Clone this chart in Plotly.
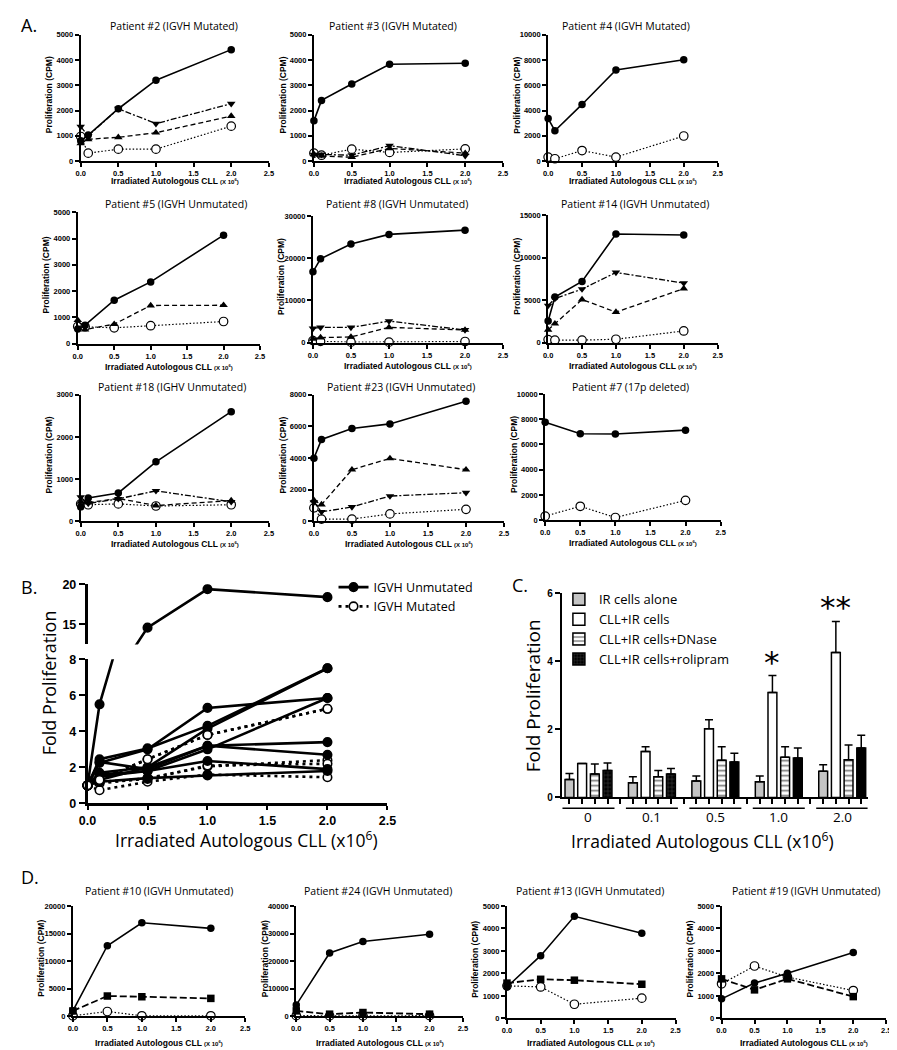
import plotly.graph_objects as go

# ------------------------------------------------------------------ data
DOSE5 = [0.0, 0.1, 0.5, 1.0, 2.0]
DOSE4 = [0.0, 0.5, 1.0, 2.0]

# Panel A  (Proliferation, CPM)
P2_FILLED = [800, 1030, 2070, 3200, 4410]
P2_DOWN = [1360, 1000, 2070, 1480, 2270]
P2_UP = [700, 860, 940, 1120, 1780]
P2_OPEN = [970, 310, 470, 470, 1380]

P3_FILLED = [1590, 2400, 3050, 3830, 3870]
P3_DOWN = [250, 260, 230, 610, 210]
P3_UP = [270, 200, 150, 500, 310]
P3_OPEN = [310, 230, 470, 340, 480]

P4_FILLED = [3360, 2400, 4480, 7210, 8020]
P4_OPEN = [310, 180, 830, 310, 1980]

P5_FILLED = [550, 700, 1650, 2350, 4130]
P5_UP = [890, 530, 740, 1450, 1460]
P5_OPEN = [650, 640, 600, 680, 840]

P8_FILLED = [16800, 19900, 23400, 25700, 26700]
P8_DOWN = [3370, 3600, 3600, 5100, 3000]
P8_UP = [900, 1180, 1340, 3600, 3000]
P8_OPEN = [450, 300, 100, 100, 250]

P14_FILLED = [2540, 5370, 7200, 12800, 12670]
P14_DOWN = [4360, 5190, 6300, 8260, 7010]
P14_UP = [1500, 2220, 5070, 3590, 6360]
P14_OPEN = [350, 290, 290, 390, 1370]

P18_FILLED = [340, 550, 670, 1410, 2600]
P18_DOWN = [570, 420, 530, 720, 460]
P18_UP = [460, 440, 540, 370, 490]
P18_OPEN = [410, 390, 410, 360, 390]

P23_FILLED = [3980, 5180, 5870, 6160, 7600]
P23_UP = [1320, 1050, 3260, 3970, 3260]
P23_DOWN = [1200, 590, 900, 1590, 1800]
P23_OPEN = [840, 130, 130, 460, 750]

P7_FILLED = [7750, 6840, 6820, 7130]
P7_OPEN = [320, 1100, 210, 1570]

# Panel D  (Proliferation, CPM)
P10_FILLED = [1020, 12800, 16960, 15950]
P10_SQUARE = [1000, 3700, 3570, 3270]
P10_OPEN = [120, 900, 120, 120]

P24_FILLED = [4180, 22980, 27130, 29750]
P24_SQUARE = [2030, 830, 1430, 830]
P24_OPEN = [300, 200, 200, 300]

P13_FILLED = [1400, 2790, 4540, 3790]
P13_SQUARE = [1570, 1740, 1700, 1520]
P13_OPEN = [1450, 1400, 630, 900]

P19_FILLED = [870, 1570, 2010, 2930]
P19_SQUARE = [1760, 1270, 1760, 970]
P19_OPEN = [1540, 2330, 1840, 1240]

# Panel B  (fold proliferation)
B_UNMUTATED = [
    [1, 5.5, 14.6, 19.4, 18.4],
    [1, 2.45, 3.05, 4.3, 7.5],
    [1, 2.25, 3.0, 5.3, 5.85],
    [1, 1.7, 2.0, 4.15, 7.5],
    [1, 2.3, 1.9, 3.2, 2.7],
    [1, 1.5, 1.8, 3.0, 5.85],
    [1, 1.3, 2.0, 3.2, 3.4],
    [1, 1.6, 1.8, 2.35, 1.9],
    [1, 1.2, 1.4, 1.55, 1.8],
]
B_MUTATED = [
    [1, 1.3, 2.45, 3.8, 5.25],
    [1, 1.1, 1.4, 2.05, 2.4],
    [1, 0.73, 1.2, 1.6, 1.45],
    [1, 1.2, 1.35, 2.1, 2.2],
]

# Panel C  (fold proliferation, mean + SEM)
C_GROUPS = ["0", "0.1", "0.5", "1.0", "2.0"]
C_IR_ALONE = [0.53, 0.43, 0.48, 0.46, 0.77]
C_IR_ALONE_ERR = [0.17, 0.18, 0.15, 0.17, 0.19]
C_CLL_IR = [1.0, 1.35, 2.02, 3.08, 4.26]
C_CLL_IR_ERR = [0, 0.14, 0.26, 0.5, 0.91]
C_DNASE = [0.69, 0.61, 1.09, 1.18, 1.11]
C_DNASE_ERR = [0.29, 0.18, 0.4, 0.31, 0.43]
C_ROLIPRAM = [0.79, 0.69, 1.04, 1.16, 1.45]
C_ROLIPRAM_ERR = [0.22, 0.16, 0.26, 0.29, 0.38]
C_STARS = ["", "", "", "*", "**"]

# ------------------------------------------------------------------ helpers
W, H = 897, 1050
fig = go.Figure()
layout = {}
annotations = []
shapes = []
counter = [0]

BOLD = dict(family="Liberation Sans", color="black", weight="bold")
SANS = "Open Sans"


def px_x(v):
    return v / W


def px_y(v):
    return 1 - v / H


def note(text, x, y, size, family=SANS, angle=0, xanchor="center", yanchor="middle",
         bold=False, xref="paper", yref="paper"):
    f = dict(family=family, size=size, color="black")
    if bold:
        f["weight"] = "bold"
    annotations.append(dict(text=text, x=x, y=y, xref=xref, yref=yref, showarrow=False,
                            textangle=angle, xanchor=xanchor, yanchor=yanchor, font=f))


def new_axes(box, xcfg, ycfg):
    counter[0] += 1
    n = counter[0]
    sx = "" if n == 1 else str(n)
    x0, x1, ytop, ybot = box
    layout["xaxis" + sx] = dict(domain=[x0 / W, x1 / W], anchor="y" + sx, **xcfg)
    layout["yaxis" + sx] = dict(domain=[1 - ybot / H, 1 - ytop / H], anchor="x" + sx, **ycfg)
    return "x" + sx, "y" + sx


COMMON_AX = dict(showgrid=False, zeroline=False, showline=True, linecolor="black",
                 ticks="outside", tickcolor="black", ticklabeloverflow="allow")

STYLE = {
    "open": dict(line=dict(color="black", width=1.2, dash="1.5px,2px"),
                 marker=dict(symbol="circle", size=8.5, color="white", opacity=1,
                             line=dict(color="black", width=1.2))),
    "up": dict(line=dict(color="black", width=1.3, dash="5px,3px"),
               marker=dict(symbol="triangle-up", size=7.5, color="black", opacity=1)),
    "down": dict(line=dict(color="black", width=1.3, dash="6px,2px,2px,2px"),
                 marker=dict(symbol="triangle-down", size=7.5, color="black", opacity=1)),
    "square": dict(line=dict(color="black", width=1.8, dash="7px,3px"),
                   marker=dict(symbol="square", size=7.5, color="black", opacity=1)),
    "filled": dict(line=dict(color="black", width=1.6),
                   marker=dict(symbol="circle", size=7.5, color="black", opacity=1)),
}
ORDER = ["open", "up", "down", "square", "filled"]
XTITLE_SMALL = "Irradiated Autologous CLL <span style='font-size:6px'>(X 10<sup>6</sup>)</span>"


def small_panel(title, title_cx, title_y, xtitle_y, box, ymax, ydtick, xs, series):
    x0, x1, ytop, ybot = box
    xcfg = dict(COMMON_AX, range=[0, 2.5], tickvals=[0, 0.5, 1, 1.5, 2, 2.5],
                tickformat=".1f", ticklen=4, tickwidth=1.5, linewidth=2,
                tickfont=dict(BOLD, size=7.5))
    ycfg = dict(COMMON_AX, range=[0, ymax], dtick=ydtick, tickformat="d",
                ticklen=4, tickwidth=1.5, linewidth=2,
                tickfont=dict(BOLD, size=7.5))
    xa, ya = new_axes(box, xcfg, ycfg)
    for key in ORDER:
        if key in series:
            st = STYLE[key]
            fig.add_trace(go.Scatter(x=xs, y=series[key], xaxis=xa, yaxis=ya,
                                     mode="lines+markers", line=st["line"],
                                     marker=st["marker"], showlegend=False,
                                     cliponaxis=False))
    note(title, px_x(title_cx), px_y(title_y), 10.5)
    note(XTITLE_SMALL, px_x((x0 + x1) / 2), px_y(xtitle_y), 8.5, family="Liberation Sans",
         bold=True)
    note("Proliferation (CPM)", px_x(x0 - 32), px_y((ytop + ybot) / 2 - 3), 8.5,
         family="Liberation Sans", angle=-90, bold=True)


# ------------------------------------------------------------------ panel A
small_panel("Patient #2 (IGVH Mutated)", 160, 11, 168, (65, 257, 20, 148), 5000, 1000, DOSE5,
            dict(filled=P2_FILLED, down=P2_DOWN, up=P2_UP, open=P2_OPEN))
small_panel("Patient #3 (IGVH Mutated)", 384, 11, 168, (303, 496, 20, 148), 5000, 1000, DOSE5,
            dict(filled=P3_FILLED, down=P3_DOWN, up=P3_UP, open=P3_OPEN))
small_panel("Patient #4 (IGVH Mutated)", 621, 11, 168, (542, 715, 20, 148), 10000, 2000, DOSE5,
            dict(filled=P4_FILLED, open=P4_OPEN))

small_panel("Patient #5 (IGVH Unmutated)", 162, 192, 357, (62, 248, 200, 333), 5000, 1000, DOSE5,
            dict(filled=P5_FILLED, up=P5_UP, open=P5_OPEN))
small_panel("Patient #8 (IGVH Unmutated)", 388, 192, 356, (302, 496, 204, 332), 30000, 10000, DOSE5,
            dict(filled=P8_FILLED, down=P8_DOWN, up=P8_UP, open=P8_OPEN))
small_panel("Patient #14 (IGVH Unmutated)", 631, 192, 356, (542, 715, 203, 332), 15000, 5000, DOSE5,
            dict(filled=P14_FILLED, down=P14_DOWN, up=P14_UP, open=P14_OPEN))

small_panel("Patient #18 (IGHV Unmutated)", 158, 377, 536, (65, 257, 385, 513), 3000, 1000, DOSE5,
            dict(filled=P18_FILLED, down=P18_DOWN, up=P18_UP, open=P18_OPEN))
small_panel("Patient #23 (IGVH Unmutated)", 392, 377, 536, (303, 497, 385, 513), 8000, 2000, DOSE5,
            dict(filled=P23_FILLED, down=P23_DOWN, up=P23_UP, open=P23_OPEN))
small_panel("Patient #7 (17p deleted)", 626, 377, 535, (539, 718, 384, 512), 10000, 2000, DOSE4,
            dict(filled=P7_FILLED, open=P7_OPEN))

# ------------------------------------------------------------------ panel D
small_panel("Patient #10 (IGVH Unmutated)", 145, 888, 1042, (57, 233, 903, 1015), 20000, 5000, DOSE4,
            dict(filled=P10_FILLED, square=P10_SQUARE, open=P10_OPEN))
small_panel("Patient #24 (IGVH Unmutated)", 368, 888, 1042, (285, 455, 903, 1015), 40000, 10000, DOSE4,
            dict(filled=P24_FILLED, square=P24_SQUARE, open=P24_OPEN))
small_panel("Patient #13 (IGVH Unmutated)", 585, 888, 1042, (500, 672, 903, 1017), 5000, 1000, DOSE4,
            dict(filled=P13_FILLED, square=P13_SQUARE, open=P13_OPEN))
small_panel("Patient #19 (IGVH Unmutated)", 805, 888, 1042, (719, 887, 903, 1017), 5000, 1000, DOSE4,
            dict(filled=P19_FILLED, square=P19_SQUARE, open=P19_OPEN))

# ------------------------------------------------------------------ panel B (broken axis)
LOW_MAX = 8
UP_MIN, UP_MAX = 12.5, 20
B_TICKFONT = dict(BOLD, size=12.5)
xb_lo, yb_lo = new_axes((72, 378, 653, 799),
                        dict(COMMON_AX, range=[0, 2.5], tickvals=[0, 0.5, 1, 1.5, 2, 2.5],
                             tickformat=".1f", ticklen=4, tickwidth=2, linewidth=2.5,
                             tickfont=B_TICKFONT),
                        dict(COMMON_AX, range=[0, LOW_MAX], tickvals=[0, 2, 4, 6, 8],
                             ticklen=6, tickwidth=2, linewidth=2.5, tickfont=B_TICKFONT))
xb_up, yb_up = new_axes((72, 378, 577, 638),
                        dict(range=[0, 2.5], visible=False),
                        dict(COMMON_AX, range=[UP_MIN, UP_MAX], tickvals=[15, 20],
                             ticklen=6, tickwidth=2, linewidth=2.5, tickfont=B_TICKFONT))


def b_line(ys, mutated, legend_name=None):
    lstyle = dict(color="black", width=2.6, dash="3px,4px" if mutated else "solid")
    mk = dict(symbol="circle", color="white" if mutated else "black", opacity=1,
              line=dict(color="black", width=1.6))
    lo_sizes = [8.5 if v <= LOW_MAX else 0 for v in ys]
    fig.add_trace(go.Scatter(x=DOSE5, y=ys, xaxis=xb_lo, yaxis=yb_lo, mode="lines+markers",
                             line=lstyle, marker=dict(mk, size=lo_sizes if 0 in lo_sizes else 8.5),
                             cliponaxis=False, name=legend_name or "",
                             showlegend=legend_name is not None, legend="legend"))
    if any(v > LOW_MAX for v in ys):
        up_sizes = [8.5 if v >= UP_MIN else 0 for v in ys]
        fig.add_trace(go.Scatter(x=DOSE5, y=ys, xaxis=xb_up, yaxis=yb_up, mode="lines+markers",
                                 line=lstyle, marker=dict(mk, size=up_sizes),
                                 cliponaxis=True, showlegend=False))


for ys in B_MUTATED:
    b_line(ys, True)
for i, ys in enumerate(B_UNMUTATED):
    b_line(ys, False, "IGVH Unmutated" if i == 1 else None)
fig.add_trace(go.Scatter(x=DOSE5, y=B_MUTATED[0], xaxis=xb_lo, yaxis=yb_lo, mode="lines+markers",
                         line=dict(color="black", width=2.6, dash="3px,4px"),
                         marker=dict(symbol="circle", size=8.5, color="white", opacity=1,
                                     line=dict(color="black", width=1.6)),
                         cliponaxis=False, name="IGVH Mutated", legend="legend",
                         showlegend=True))

note("Fold Proliferation", px_x(33), px_y(677), 18, angle=-90)
note("Irradiated Autologous CLL (x10<sup>6</sup>)", px_x(234), px_y(836), 17.5)

# ------------------------------------------------------------------ panel C
GROUP_POS = list(range(len(C_GROUPS)))
BAR_OFFSETS = [-0.3, -0.1, 0.1, 0.3]
c_ticks = [g + o for g in GROUP_POS for o in BAR_OFFSETS] + [g + 0.5 for g in GROUP_POS[:-1]]
xc, yc = new_axes((556, 868, 586, 793),
                  dict(COMMON_AX, range=[-0.42, 4.40], tickvals=c_ticks, showticklabels=False,
                       ticklen=5, tickwidth=1.5, linewidth=2),
                  dict(COMMON_AX, range=[0, 6], tickvals=[0, 2, 4, 6], ticklen=5, tickwidth=1.5,
                       linewidth=2, tickfont=dict(BOLD, size=10)))

bar_specs = [
    ("IR cells alone", C_IR_ALONE, C_IR_ALONE_ERR, dict(color="#c4c4c4")),
    ("CLL+IR cells", C_CLL_IR, C_CLL_IR_ERR, dict(color="white")),
    ("CLL+IR cells+DNase", C_DNASE, C_DNASE_ERR,
     dict(color="white", pattern=dict(shape="-", fgcolor="black", bgcolor="white",
                                      size=5, solidity=0.35))),
    ("CLL+IR cells+rolipram", C_ROLIPRAM, C_ROLIPRAM_ERR,
     dict(color="black", pattern=dict(shape=["+", "+", "", "", ""], fgcolor="#8a8a8a",
                                      bgcolor="black", size=4, solidity=0.25))),
]
for name, vals, errs, mk in bar_specs:
    fig.add_trace(go.Bar(x=GROUP_POS, y=vals, name=name, xaxis=xc, yaxis=yc,
                         marker=dict(mk, line=dict(color="black", width=1.5)),
                         error_y=dict(type="data", array=errs, arrayminus=[0] * len(errs),
                                      symmetric=False, color="black", thickness=1.5, width=4),
                         legend="legend2"))

for g, star, v, e in zip(GROUP_POS, C_STARS, C_CLL_IR, C_CLL_IR_ERR):
    if star:
        annotations.append(dict(text=star, x=g + BAR_OFFSETS[1], y=v + e, xref=xc, yref=yc,
                                showarrow=False, xanchor="center", yanchor="bottom", yshift=-6,
                                font=dict(family="DejaVu Sans", size=31, color="black")))

for g, lab in zip(GROUP_POS, C_GROUPS):
    shapes.append(dict(type="line", xref=xc, yref="paper", x0=g - 0.41, x1=g + 0.41,
                       y0=px_y(804), y1=px_y(804), line=dict(color="black", width=1.5)))
    note(lab, g, px_y(813), 13.5, xref=xc)

note("Fold Proliferation", px_x(526), px_y(690), 19, angle=-90)
note("Irradiated Autologous CLL (x10<sup>6</sup>)", px_x(700), px_y(837), 17.5)

# ------------------------------------------------------------------ panel letters
for lab, px, py in [("A.", 2, 10), ("B.", 2, 580), ("C.", 503, 578), ("D.", 2, 874)]:
    note(lab, px_x(px), px_y(py), 18, xanchor="left")

fig.update_layout(
    width=W, height=H, margin=dict(l=0, r=0, t=0, b=0),
    paper_bgcolor="white", plot_bgcolor="white",
    barmode="group", bargap=0.2, bargroupgap=0.3,
    legend=dict(x=px_x(323), y=px_y(565), xanchor="left", yanchor="top",
                bgcolor="rgba(0,0,0,0)", font=dict(family=SANS, size=12.5, color="black"),
                tracegroupgap=0),
    legend2=dict(x=px_x(553), y=px_y(577), xanchor="left", yanchor="top",
                 bgcolor="rgba(0,0,0,0)", font=dict(family=SANS, size=13, color="black"),
                 tracegroupgap=0),
    annotations=annotations, shapes=shapes, **layout)

fig.write_html("out.html")
